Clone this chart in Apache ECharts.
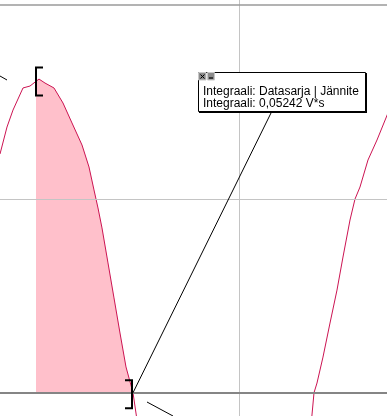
<!DOCTYPE html>
<html>
<head>
<meta charset="utf-8">
<script src="https://cdn.jsdelivr.net/npm/echarts@6/dist/echarts.min.js"></script>
<style>
html,body{margin:0;padding:0;background:#fff;}
#c{width:387px;height:416px;}
</style>
</head>
<body>
<div id="c"></div>
<script>
// time in ms, voltage in V
const timeA = [6.796, 7.182, 7.514, 8.066, 8.453, 8.950, 9.282, 9.779, 10.276, 10.773, 11.326, 11.713, 11.989, 12.210, 12.431, 12.762, 13.094, 13.425, 13.757, 14.144, 14.365];
const voltA = [246.3, 274.1, 291.6, 314.4, 316.4, 323.6, 319.5, 314.4, 298.9, 278.3, 255.6, 232.9, 209.2, 190.6, 170.0, 133.9, 97.8, 61.6, 26.6, 0, -28.2];
const timeB = [24.006, 24.144, 24.309, 24.641, 25.028, 25.414, 25.746, 26.133, 26.409, 26.685, 27.127, 27.624, 28.232];
const voltB = [-28.2, 0, 10.0, 36.8, 71.9, 105.9, 140.0, 178.2, 199.8, 212.2, 240.1, 260.7, 288.6];
// integral bounds [t, V]
const intStart = [8.785, 322.1];
const intEnd = [14.144, 0];
// grid lines
const yGridMinor = [200];
const yGridTop = [400];
const yZero = [0];
const xGrid = [20];
// axis ranges
const xRange = [6.796, 28.177];
const yRange = [-24, 405.16];
const labelLines = ['Integraali: Datasarja | Jännite', 'Integraali: 0,05242 V*s'];

const curve = timeA.map((t, i) => [t, voltA[i]]).concat([[null, null]]).concat(timeB.map((t, i) => [t, voltB[i]]));
const area = [intStart].concat(timeA.map((t, i) => [t, voltA[i]]).filter(p => p[0] > intStart[0] && p[0] <= intEnd[0]));

const chart = echarts.init(document.getElementById('c'), null, {renderer: 'canvas'});
const lineColor = '#cc1452';
const font = '12px "Liberation Sans", Arial, sans-serif';

chart.setOption({
  animation: false,
  backgroundColor: '#ffffff',
  grid: {left: 0, right: 0, top: 0, bottom: 0, containLabel: false},
  xAxis: {type: 'value', min: xRange[0], max: xRange[1], show: true,
    axisLine: {show: false}, axisTick: {show: false}, axisLabel: {show: false}, splitLine: {show: false}},
  yAxis: {type: 'value', min: yRange[0], max: yRange[1], show: true,
    axisLine: {show: false}, axisTick: {show: false}, axisLabel: {show: false}, splitLine: {show: false}},
  series: [
    {
      type: 'line', z: 1, data: area, symbol: 'none', silent: true,
      lineStyle: {width: 0, opacity: 0},
      areaStyle: {color: '#ffc0cb', opacity: 1}
    },
    {
      type: 'line', z: 2, data: [], symbol: 'none', silent: true,
      markLine: {
        silent: true, symbol: 'none', label: {show: false}, animation: false,
        data: [
          ...yGridMinor.map(v => ({yAxis: v, lineStyle: {color: '#c4c4c4', width: 1, type: 'solid'}})),
          ...xGrid.map(v => ({xAxis: v, lineStyle: {color: '#c4c4c4', width: 1, type: 'solid'}})),
          ...yGridTop.map(v => ({yAxis: v, lineStyle: {color: '#9a9a9a', width: 1.5, type: 'solid'}})),
          ...yZero.map(v => ({yAxis: v, lineStyle: {color: '#858585', width: 2, type: 'solid'}}))
        ]
      }
    },
    {
      type: 'line', z: 3, data: curve, symbol: 'none', connectNulls: false, silent: true,
      lineStyle: {color: lineColor, width: 1},
      markPoint: {
        silent: true, label: {show: false}, animation: false,
        data: [
          {coord: intStart, symbol: 'path://M0,0L8,0L8,2L2,2L2,28L8,28L8,30L0,30Z', symbolSize: [8, 30], symbolKeepAspect: false, symbolOffset: [3, 1], itemStyle: {color: '#000'}},
          {coord: intEnd, symbol: 'path://M0,0L8,0L8,30L0,30L0,28L6,28L6,2L0,2Z', symbolSize: [8, 30], symbolKeepAspect: false, symbolOffset: [-4, 1.5], itemStyle: {color: '#000'}}
        ]
      }
    },
    {
      type: 'line', z: 4, data: [], symbol: 'none', silent: true,
      markLine: {
        silent: true, symbol: 'none', label: {show: false}, animation: false,
        lineStyle: {color: '#000', width: 1, type: 'solid'},
        data: [
          [{coord: intEnd}, {x: 271, y: 113}]
        ]
      }
    }
  ],
  graphic: [
    {type: 'line', z: 90, shape: {x1: 0, y1: 76, x2: 7, y2: 80}, style: {stroke: '#000', lineWidth: 1}},
    {type: 'line', z: 90, shape: {x1: 147, y1: 402, x2: 173, y2: 416}, style: {stroke: '#000', lineWidth: 1}},
    {type: 'rect', z: 100, shape: {x: 199, y: 73, width: 168, height: 40}, style: {fill: '#000'}},
    {type: 'rect', z: 101, shape: {x: 198.5, y: 72.5, width: 167, height: 39}, style: {fill: '#fff', stroke: '#000', lineWidth: 1}},
    {type: 'rect', z: 102, shape: {x: 198.5, y: 72.5, width: 7.5, height: 7.5}, style: {fill: '#8c8c8c', stroke: '#c8c8c8', lineWidth: 1}},
    {type: 'line', z: 103, shape: {x1: 200.5, y1: 74.5, x2: 204.5, y2: 78.5}, style: {stroke: '#000', lineWidth: 1}},
    {type: 'line', z: 103, shape: {x1: 204.5, y1: 74.5, x2: 200.5, y2: 78.5}, style: {stroke: '#000', lineWidth: 1}},
    {type: 'rect', z: 102, shape: {x: 207.5, y: 72.5, width: 7, height: 7.5}, style: {fill: '#8c8c8c', stroke: '#c8c8c8', lineWidth: 1}},
    {type: 'line', z: 103, shape: {x1: 209, y1: 78, x2: 213, y2: 78}, style: {stroke: '#000', lineWidth: 1.2}},
    {type: 'text', z: 104, x: 203, y: 91.8, style: {text: labelLines[0], font: font, fill: '#000', verticalAlign: 'middle', align: 'left'}},
    {type: 'text', z: 104, x: 203, y: 103.5, style: {text: labelLines[1], font: font, fill: '#000', verticalAlign: 'middle', align: 'left'}}
  ]
});
</script>
</body>
</html>
